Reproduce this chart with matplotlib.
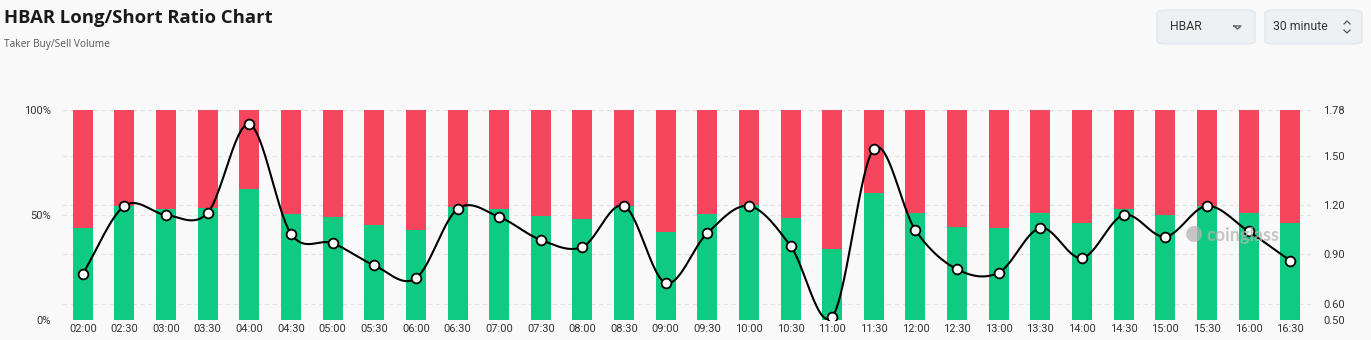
import numpy as np
import matplotlib.pyplot as plt
from matplotlib.patches import FancyBboxPatch
from matplotlib.lines import Line2D

# data
times = ["02:00", "02:30", "03:00", "03:30", "04:00", "04:30", "05:00", "05:30",
         "06:00", "06:30", "07:00", "07:30", "08:00", "08:30", "09:00", "09:30",
         "10:00", "10:30", "11:00", "11:30", "12:00", "12:30", "13:00", "13:30",
         "14:00", "14:30", "15:00", "15:30", "16:00", "16:30"]
long_pct = [43.7, 54.3, 53.0, 53.3, 62.4, 50.3, 48.9, 45.1,
            42.7, 53.8, 52.9, 49.5, 48.1, 54.3, 41.9, 50.5,
            54.8, 48.4, 34.0, 60.3, 50.8, 44.4, 43.7, 51.0,
            46.3, 52.9, 49.8, 54.3, 51.0, 46.1]
ratio = [0.782, 1.195, 1.140, 1.154, 1.693, 1.026, 0.968, 0.833,
         0.754, 1.177, 1.128, 0.988, 0.945, 1.195, 0.726, 1.030,
         1.195, 0.951, 0.520, 1.543, 1.047, 0.809, 0.789, 1.061,
         0.878, 1.140, 1.008, 1.195, 1.040, 0.862]
left_ticks = [0, 50, 100]
left_labels = ["0%", "50%", "100%"]
right_ticks = [0.50, 0.60, 0.90, 1.20, 1.50, 1.78]

GREEN = "#0ecb81"
RED = "#f6465d"
BG = "#f9f9f9"

plt.rcParams['font.family'] = ['Roboto', 'DejaVu Sans']

fig = plt.figure(figsize=(13.71, 3.40), dpi=100)
fig.patch.set_facecolor(BG)

ax = fig.add_axes([62 / 1371, 20 / 340, (1311 - 62) / 1371, 210 / 340])
ax.set_facecolor(BG)
x = np.arange(len(times))
short_pct = [100 - v for v in long_pct]
ax.bar(x, long_pct, width=0.48, color=GREEN, zorder=2)
ax.bar(x, short_pct, width=0.48, bottom=long_pct, color=RED, zorder=2)
ax.set_xlim(-0.5, len(times) - 0.5)
ax.set_ylim(0, 100)

# dashed grid (right axis ticks + 50%)
rmin, rmax = 0.5, 1.78
for v in right_ticks:
    ax.axhline((v - rmin) / (rmax - rmin) * 100, color="#e4e4e4", lw=0.8,
               ls=(0, (4, 3)), zorder=0)
ax.axhline(50, color="#e4e4e4", lw=0.8, ls=(0, (4, 3)), zorder=0)

ax.set_yticks(left_ticks)
ax.set_yticklabels(left_labels)
ax.set_xticks(x)
ax.set_xticklabels(times)
ax.tick_params(length=0, labelsize=8, colors="#333333")
ax.tick_params(axis="y", pad=8)
ax.tick_params(axis="x", pad=3)
for s in ax.spines.values():
    s.set_visible(False)

# ratio line on the right axis, smoothed with catmull-rom
ax2 = ax.twinx()
ax2.set_ylim(rmin, rmax)
ax2.patch.set_visible(False)
for s in ax2.spines.values():
    s.set_visible(False)
ax2.set_yticks(right_ticks)
ax2.set_yticklabels([f"{v:.2f}" for v in right_ticks])
ax2.tick_params(length=0, labelsize=8, colors="#333333", pad=9)

r = np.array(ratio)
m = np.zeros_like(r)
m[1:-1] = (r[2:] - r[:-2]) / 2
m[0] = r[1] - r[0]
m[-1] = r[-1] - r[-2]
xs, ys = [], []
for i in range(len(r) - 1):
    t = np.linspace(0, 1, 30)
    h00 = 2 * t**3 - 3 * t**2 + 1
    h10 = t**3 - 2 * t**2 + t
    h01 = -2 * t**3 + 3 * t**2
    h11 = t**3 - t**2
    xs.append(i + t)
    ys.append(h00 * r[i] + h10 * m[i] + h01 * r[i + 1] + h11 * m[i + 1])
ax2.plot(np.concatenate(xs), np.concatenate(ys), color="black", lw=1.5, zorder=3)
ax2.plot(x, r, ls="none", marker="o", ms=7, mfc="white", mec="black", mew=1.3, zorder=4)

# watermark
fig.text(1206 / 1371, 1 - 235 / 340, "coinglass", fontsize=13, fontweight="bold",
         color="#b4b4b4", alpha=0.75, va="center", ha="left", zorder=10,
         family=["Lato", "DejaVu Sans"])
fig.text(1194 / 1371, 1 - 233 / 340, "\u25CF", fontsize=15, color="#b4b4b4", alpha=0.75,
         va="center", ha="center", zorder=10)

# titles
fig.text(4 / 1371, 1 - 18 / 340, "HBAR Long/Short Ratio Chart", fontsize=13.3,
         fontweight="bold", color="#1a1a1a", va="center", ha="left",
         family=["Open Sans", "DejaVu Sans"])
fig.text(4 / 1371, 1 - 44 / 340, "Taker Buy/Sell Volume", fontsize=7.3,
         color="#555555", va="center", ha="left", family=["Open Sans", "DejaVu Sans"])

# selector boxes
for (x0, x1) in [(1157, 1255), (1265, 1362)]:
    fig.patches.append(FancyBboxPatch((x0 / 1371, 1 - 44 / 340), (x1 - x0) / 1371, 34 / 340,
                                      boxstyle="round,pad=0,rounding_size=0.008",
                                      transform=fig.transFigure, fc="#eef1f4",
                                      ec="#dde4ec", lw=0.8))
fig.text(1170 / 1371, 1 - 27 / 340, "HBAR", fontsize=8.8, color="#333333", va="center")
fig.text(1273 / 1371, 1 - 27 / 340, "30 minute", fontsize=8.8, color="#333333", va="center")
fig.lines.append(Line2D([1234 / 1371, 1241 / 1371, 1237.5 / 1371, 1234 / 1371],
                        [1 - 26 / 340, 1 - 26 / 340, 1 - 29 / 340, 1 - 26 / 340],
                        transform=fig.transFigure, color="#666666", lw=1))
fig.lines.append(Line2D([1344 / 1371, 1347 / 1371, 1350 / 1371],
                        [1 - 24 / 340, 1 - 21 / 340, 1 - 24 / 340],
                        transform=fig.transFigure, color="#555555", lw=0.9))
fig.lines.append(Line2D([1344 / 1371, 1347 / 1371, 1350 / 1371],
                        [1 - 30 / 340, 1 - 33 / 340, 1 - 30 / 340],
                        transform=fig.transFigure, color="#555555", lw=0.9))

fig.savefig("out.png", dpi=100, facecolor=BG)
